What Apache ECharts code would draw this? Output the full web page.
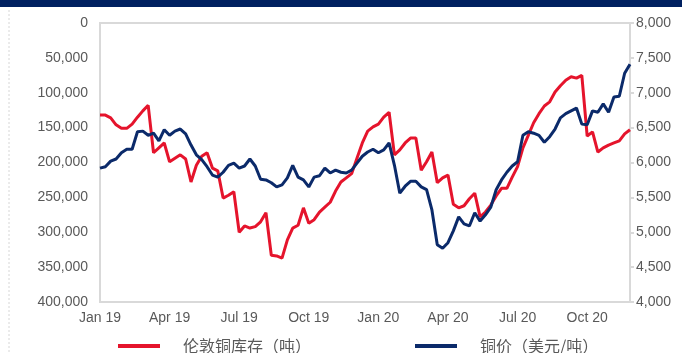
<!DOCTYPE html>
<html>
<head>
<meta charset="utf-8">
<script src="https://cdn.jsdelivr.net/npm/echarts@6/dist/echarts.min.js"></script>
<style>
  html, body { margin: 0; padding: 0; background: #ffffff; }
  #chart { width: 682px; height: 353px; }
</style>
</head>
<body>
<div id="chart"></div>
<script>
// Weekly LME copper stocks (tonnes, left axis, inverted) vs copper price (USD/t, right axis)
const startDate = '2019-01-04';
const weekCount = 100;

const quarterLabels = ['Jan 19', 'Apr 19', 'Jul 19', 'Oct 19', 'Jan 20', 'Apr 20', 'Jul 20', 'Oct 20'];

const stockName = '伦敦铜库存（吨）';
const priceName = '铜价（美元/吨）';

const lmeStocks = [
  132000, 132000, 136000, 146000, 151000, 151000, 145000, 135000, 126000, 118000,
  186000, 179000, 172000, 199000, 194000, 189000, 195000, 228000, 204000, 191000,
  186000, 208000, 212000, 251000, 247000, 242000, 300000, 291000, 294000, 292000,
  285000, 272000, 333000, 334000, 337000, 311000, 294000, 290000, 265000, 287000,
  282000, 271000, 264000, 257000, 241000, 228000, 222000, 216000, 194000, 172000,
  155000, 149000, 145000, 135000, 128000, 189000, 182000, 172000, 165000, 165000,
  211000, 199000, 185000, 229000, 222000, 218000, 260000, 265000, 262000, 252000,
  244000, 278000, 271000, 261000, 248000, 237000, 237000, 221000, 206000, 179000,
  161000, 143000, 130000, 119000, 113000, 99000, 90000, 82000, 77000, 79000,
  75000, 162000, 156000, 185000, 179000, 175000, 172000, 169000, 159000, 153000
];

const copperPrice = [
  5920, 5940, 6020, 6050, 6140, 6190, 6190, 6440, 6450, 6390,
  6420, 6310, 6470, 6390, 6450, 6480, 6410, 6250, 6110, 6040,
  5940, 5820, 5790, 5860, 5960, 5990, 5920, 5950, 6050, 5950,
  5760, 5750, 5710, 5650, 5680, 5780, 5960, 5790, 5750, 5650,
  5790, 5810, 5920, 5850, 5890, 5860, 5850, 5890, 5990, 6090,
  6150, 6190, 6140, 6180, 6280, 5960, 5560, 5660, 5730, 5730,
  5650, 5610, 5320, 4820, 4770, 4850, 5020, 5220, 5120, 5090,
  5280, 5160, 5250, 5360, 5610, 5750, 5860, 5950, 6010, 6390,
  6440, 6420, 6390, 6290, 6370, 6480, 6640, 6700, 6740, 6780,
  6550, 6540, 6740, 6720, 6840, 6720, 6940, 6950, 7280, 7410
];

// Weekly category dates (Fridays)
const weekDates = [];
{
  const d0 = new Date(startDate + 'T00:00:00Z');
  for (let i = 0; i < weekCount; i++) {
    const d = new Date(d0.getTime() + i * 7 * 86400000);
    weekDates.push(d.toISOString().slice(0, 10));
  }
}

const axisGray = '#d9d9d9';
const textGray = '#595959';
const redColor = '#e5142c';
const navyColor = '#0b2a6a';
const fontFamily = '"Liberation Sans", Arial, sans-serif';

const thousands = v => String(v).replace(/\B(?=(\d{3})+(?!\d))/g, ',');

const chart = echarts.init(document.getElementById('chart'), null, { renderer: 'canvas' });

chart.setOption({
  animation: false,
  backgroundColor: '#ffffff',
  graphic: [
    { type: 'rect', left: 0, top: 0, shape: { width: 682, height: 7 }, style: { fill: '#002060' }, z: 10 },
    { type: 'line', shape: { x1: 9, y1: 10, x2: 9, y2: 353 }, style: { stroke: '#d6d6d6', lineWidth: 1, lineDash: [2, 2] }, z: 10 }
  ],
  grid: {
    left: 100, right: 52, top: 23, bottom: 51,
    show: true, borderColor: axisGray, borderWidth: 2, backgroundColor: 'transparent'
  },
  legend: [
    {
      left: 113, top: 333,
      itemWidth: 42, itemHeight: 4, icon: 'rect',
      data: [{ name: stockName }],
      textStyle: { fontSize: 16, color: textGray, fontFamily: '"Noto Sans CJK SC", sans-serif', padding: [0, 0, 0, 18] }
    },
    {
      left: 410, top: 333,
      itemWidth: 42, itemHeight: 4, icon: 'rect',
      data: [{ name: priceName }],
      textStyle: { fontSize: 16, color: textGray, fontFamily: '"Noto Sans CJK SC", sans-serif', padding: [0, 0, 0, 18] }
    }
  ],
  xAxis: {
    type: 'category',
    data: weekDates,
    boundaryGap: false,
    position: 'bottom',
    axisLine: { show: true, onZero: false, lineStyle: { color: axisGray, width: 2 } },
    axisTick: { show: false },
    axisLabel: {
      interval: (idx) => idx % 13 === 0,
      formatter: (val, idx) => quarterLabels[Math.round(idx / 13)] || '',
      color: textGray,
      fontSize: 14,
      fontFamily: fontFamily,
      margin: 9
    },
    splitLine: { show: false }
  },
  yAxis: [
    {
      type: 'value',
      inverse: true,
      min: 0, max: 400000, interval: 50000,
      position: 'left',
      axisLine: { show: true, lineStyle: { color: axisGray, width: 2 } },
      axisTick: { show: false },
      axisLabel: { formatter: thousands, color: textGray, fontSize: 14, fontFamily: fontFamily, margin: 12 },
      splitLine: { show: false }
    },
    {
      type: 'value',
      min: 4000, max: 8000, interval: 500,
      position: 'right',
      axisLine: { show: true, lineStyle: { color: axisGray, width: 2 } },
      axisTick: { show: true, inside: false, length: 4, lineStyle: { color: axisGray, width: 2 } },
      axisLabel: { formatter: thousands, color: textGray, fontSize: 14, fontFamily: fontFamily, margin: 6 },
      splitLine: { show: false }
    }
  ],
  series: [
    {
      name: stockName,
      type: 'line',
      yAxisIndex: 0,
      data: lmeStocks,
      showSymbol: false,
      lineStyle: { color: redColor, width: 3 },
      itemStyle: { color: redColor },
      z: 2
    },
    {
      name: priceName,
      type: 'line',
      yAxisIndex: 1,
      data: copperPrice,
      showSymbol: false,
      lineStyle: { color: navyColor, width: 3 },
      itemStyle: { color: navyColor },
      z: 3
    }
  ]
});
</script>
</body>
</html>
